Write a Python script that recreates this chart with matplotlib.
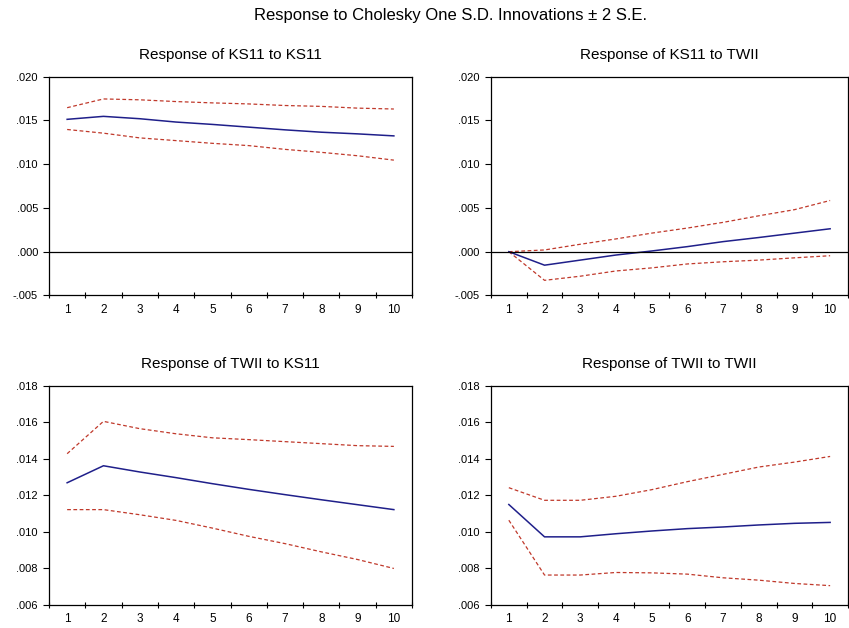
import numpy as np
import matplotlib; matplotlib.use('Agg')
import matplotlib.pyplot as plt
from matplotlib.ticker import FuncFormatter, FixedLocator, NullFormatter

plt.rcParams['font.family'] = ['Liberation Sans', 'DejaVu Sans']

periods = np.arange(1, 11)

# Response of KS11 to KS11
ks_ks = [0.01512, 0.01546, 0.01519, 0.01481, 0.01454, 0.01423, 0.01392, 0.01365, 0.01346, 0.01323]
ks_ks_hi = [0.01645, 0.01745, 0.01735, 0.01715, 0.01700, 0.01688, 0.01670, 0.01660, 0.01640, 0.01630]
ks_ks_lo = [0.01396, 0.01354, 0.01300, 0.01269, 0.01238, 0.01212, 0.01169, 0.01135, 0.01096, 0.01046]

# Response of KS11 to TWII
ks_tw = [0.0, -0.00154, -0.00096, -0.00038, 0.00008, 0.00058, 0.00115, 0.00162, 0.00212, 0.00262]
ks_tw_hi = [0.0, 0.00020, 0.00085, 0.00146, 0.00212, 0.00270, 0.00335, 0.00410, 0.00480, 0.00585]
ks_tw_lo = [0.0, -0.00327, -0.00280, -0.00220, -0.00185, -0.00140, -0.00115, -0.00096, -0.00070, -0.00046]

# Response of TWII to KS11
tw_ks = [0.01269, 0.01362, 0.01328, 0.01297, 0.01264, 0.01233, 0.01204, 0.01176, 0.01149, 0.01122]
tw_ks_hi = [0.01428, 0.01605, 0.01565, 0.01537, 0.01515, 0.01505, 0.01494, 0.01483, 0.01472, 0.01468]
tw_ks_lo = [0.01122, 0.01122, 0.01094, 0.01063, 0.01021, 0.00976, 0.00936, 0.00891, 0.00849, 0.00800]

# Response of TWII to TWII
tw_tw = [0.01150, 0.00973, 0.00973, 0.00990, 0.01005, 0.01018, 0.01027, 0.01038, 0.01047, 0.01052]
tw_tw_hi = [0.01242, 0.01173, 0.01173, 0.01195, 0.01231, 0.01275, 0.01315, 0.01355, 0.01382, 0.01413]
tw_tw_lo = [0.01064, 0.00764, 0.00764, 0.00778, 0.00776, 0.00769, 0.00749, 0.00736, 0.00718, 0.00706]

panels = [
    ('Response of KS11 to KS11', ks_ks, ks_ks_hi, ks_ks_lo, (-0.005, 0.020), 0.005, True),
    ('Response of KS11 to TWII', ks_tw, ks_tw_hi, ks_tw_lo, (-0.005, 0.020), 0.005, True),
    ('Response of TWII to KS11', tw_ks, tw_ks_hi, tw_ks_lo, (0.006, 0.018), 0.002, False),
    ('Response of TWII to TWII', tw_tw, tw_tw_hi, tw_tw_lo, (0.006, 0.018), 0.002, False),
]
rects = [[0.0577, 0.5295, 0.4276, 0.3485], [0.5783, 0.5295, 0.4205, 0.3485],
         [0.0577, 0.0366, 0.4276, 0.3492], [0.5783, 0.0366, 0.4205, 0.3492]]

def fmt(v, pos):
    s = '%.3f' % v
    if s.startswith('-0'): return '-' + s[2:]
    if s.startswith('0'): return s[1:]
    return s

fig = plt.figure(figsize=(8.49, 6.28), dpi=100)
for (title, mid, hi, lo, ylim, step, zero), r in zip(panels, rects):
    ax = fig.add_axes(r)
    ax.plot(periods, hi, color='#c0392b', lw=0.9, ls=(0, (3, 2)))
    ax.plot(periods, lo, color='#c0392b', lw=0.9, ls=(0, (3, 2)))
    ax.plot(periods, mid, color='#1f1f8a', lw=1.1)
    if zero: ax.axhline(0, color='black', lw=0.9)
    ax.set_xlim(0.5, 10.5); ax.set_ylim(*ylim)
    ax.set_yticks(np.arange(ylim[0], ylim[1] + step / 2, step))
    ax.yaxis.set_major_formatter(FuncFormatter(fmt))
    ax.xaxis.set_major_locator(FixedLocator(periods))
    ax.xaxis.set_minor_locator(FixedLocator(np.arange(0.5, 11, 1)))
    ax.xaxis.set_minor_formatter(NullFormatter())
    ax.tick_params(axis='x', which='major', length=0, labelsize=8.5, pad=6)
    ax.tick_params(axis='x', which='minor', direction='inout', length=5, width=0.8)
    ax.tick_params(axis='y', direction='out', length=4, labelsize=8, pad=4)
    for s in ax.spines.values(): s.set_linewidth(0.9)
    ax.set_title(title, fontsize=11, pad=13)

fig.text(0.531, 0.975, 'Response to Cholesky One S.D. Innovations \u00b1 2 S.E.', ha='center', va='center', fontsize=12)
plt.savefig('out.png', dpi=100)
